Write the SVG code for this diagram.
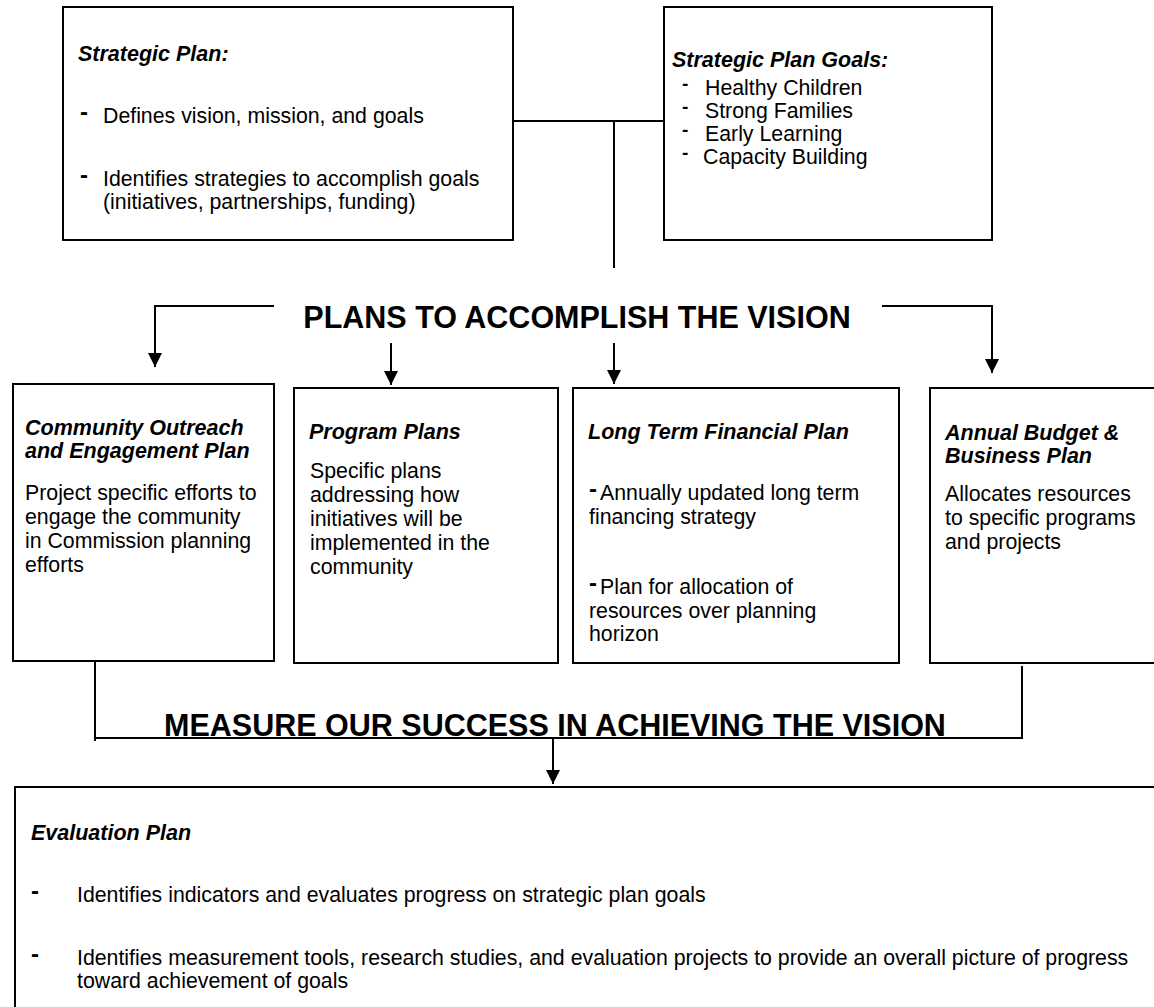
<svg xmlns="http://www.w3.org/2000/svg" width="1154" height="1007" viewBox="0 0 1154 1007">
<defs>
<style>
.box{fill:#fff;stroke:#000;stroke-width:2}
.t{font-family:"Liberation Sans",Arial,sans-serif;font-size:21.3px;fill:#000}
.h{font-family:"Liberation Sans",Arial,sans-serif;font-size:21.5px;font-weight:bold;font-style:italic;fill:#000}
.d{font-family:"Liberation Sans",Arial,sans-serif;font-size:24px;font-weight:bold;fill:#000}
.ds{font-family:"Liberation Sans",Arial,sans-serif;font-size:19px;font-weight:bold;fill:#000}
.big{font-family:"Liberation Sans",Arial,sans-serif;font-size:30.5px;font-weight:bold;fill:#000}
.ln{fill:none;stroke:#000;stroke-width:2}
</style>
<marker id="arr" viewBox="0 0 10 10" refX="10" refY="5" markerWidth="14" markerHeight="14" markerUnits="userSpaceOnUse" orient="auto">
<path d="M0,0 L10,5 L0,10 Z" fill="#000"/>
</marker>
</defs>
<rect width="1154" height="1007" fill="#fff"/>

<g id="connectors">
<polyline class="ln" points="513,121 664,121"/>
<polyline class="ln" points="614,121 614,268"/>
<polyline class="ln" points="274,306 155,306 155,367" marker-end="url(#arr)"/>
<polyline class="ln" points="391,343 391,385" marker-end="url(#arr)"/>
<polyline class="ln" points="614,343 614,384" marker-end="url(#arr)"/>
<polyline class="ln" points="882,306 992,306 992,373" marker-end="url(#arr)"/>
<polyline class="ln" points="95,661 95,741"/>
<polyline class="ln" points="95,738 1022,738 1022,666"/>
<polyline class="ln" points="553,738 553,784" marker-end="url(#arr)"/>
</g>

<g id="label-plans">
<text class="big" x="577" y="328" text-anchor="middle">PLANS TO ACCOMPLISH THE VISION</text>
</g>
<g id="label-measure">
<text class="big" x="555" y="736" text-anchor="middle">MEASURE OUR SUCCESS IN ACHIEVING THE VISION</text>
</g>

<g id="strategic-plan">
<rect class="box" x="63" y="7" width="450" height="233"/>
<text class="h" x="78" y="61">Strategic Plan:</text>
<text class="d" x="80" y="120">-</text>
<text class="t" x="103" y="123">Defines vision, mission, and goals</text>
<text class="d" x="80" y="183">-</text>
<text class="t" x="103" y="186">Identifies strategies to accomplish goals</text>
<text class="t" x="103" y="209">(initiatives, partnerships, funding)</text>
</g>

<g id="strategic-plan-goals">
<rect class="box" x="664" y="7" width="328" height="233"/>
<text class="h" x="672" y="67">Strategic Plan Goals:</text>
<text class="ds" x="682" y="90">-</text>
<text class="t" x="705" y="95">Healthy Children</text>
<text class="ds" x="682" y="113">-</text>
<text class="t" x="705" y="118">Strong Families</text>
<text class="ds" x="682" y="136">-</text>
<text class="t" x="705" y="141">Early Learning</text>
<text class="ds" x="682" y="159">-</text>
<text class="t" x="703" y="164">Capacity Building</text>
</g>

<g id="community-outreach">
<rect class="box" x="13" y="384" width="261" height="277"/>
<text class="h" x="25" y="435">Community Outreach</text>
<text class="h" x="25" y="458">and Engagement Plan</text>
<text class="t" x="25" y="500">Project specific efforts to</text>
<text class="t" x="25" y="524">engage the community</text>
<text class="t" x="25" y="548">in Commission planning</text>
<text class="t" x="25" y="572">efforts</text>
</g>

<g id="program-plans">
<rect class="box" x="294" y="388" width="264" height="275"/>
<text class="h" x="309" y="439">Program Plans</text>
<text class="t" x="310" y="478">Specific plans</text>
<text class="t" x="310" y="502">addressing how</text>
<text class="t" x="310" y="526">initiatives will be</text>
<text class="t" x="310" y="550">implemented in the</text>
<text class="t" x="310" y="574">community</text>
</g>

<g id="long-term-financial-plan">
<rect class="box" x="573" y="388" width="326" height="275"/>
<text class="h" x="588" y="439">Long Term Financial Plan</text>
<text class="d" x="589" y="497">-</text>
<text class="t" x="600" y="500">Annually updated long term</text>
<text class="t" x="589" y="524">financing strategy</text>
<text class="d" x="589" y="591">-</text>
<text class="t" x="600" y="594">Plan for allocation of</text>
<text class="t" x="589" y="618">resources over planning</text>
<text class="t" x="589" y="641">horizon</text>
</g>

<g id="annual-budget">
<rect class="box" x="930" y="388" width="240" height="275"/>
<text class="h" x="945" y="440">Annual Budget &amp;</text>
<text class="h" x="945" y="463">Business Plan</text>
<text class="t" x="945" y="501">Allocates resources</text>
<text class="t" x="945" y="525">to specific programs</text>
<text class="t" x="945" y="549">and projects</text>
</g>

<g id="evaluation-plan">
<rect class="box" x="15" y="787" width="1160" height="240"/>
<text class="h" x="31" y="840">Evaluation Plan</text>
<text class="d" x="31" y="899">-</text>
<text class="t" x="77" y="902">Identifies indicators and evaluates progress on strategic plan goals</text>
<text class="d" x="31" y="962">-</text>
<text class="t" x="77" y="965">Identifies measurement tools, research studies, and evaluation projects to provide an overall picture of progress</text>
<text class="t" x="77" y="988">toward achievement of goals</text>
</g>
</svg>
